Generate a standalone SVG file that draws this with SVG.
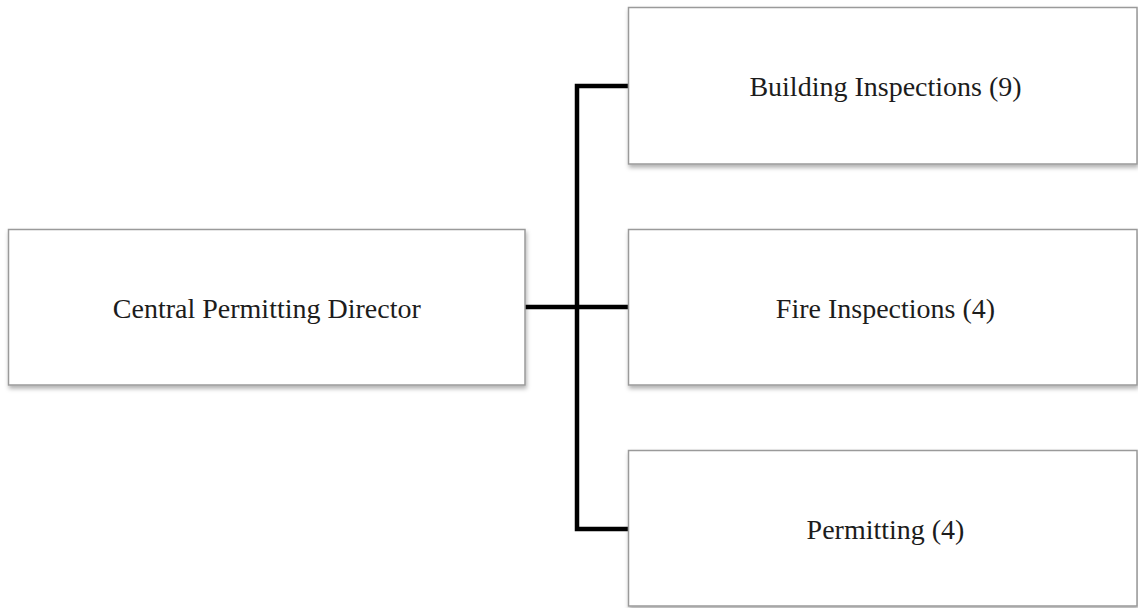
<svg xmlns="http://www.w3.org/2000/svg" width="1138" height="608" viewBox="0 0 1138 608">
  <style>
    .box { fill: #ffffff; stroke: #9a9a9a; stroke-width: 1.5; filter: url(#shadow); }
    .label { font-family: "Liberation Serif", "Times New Roman", serif; font-size: 28px; fill: #1c1c1c; text-anchor: middle; }
    .conn { fill: none; stroke: #000000; stroke-width: 4.5; stroke-linejoin: miter; stroke-linecap: butt; }
  </style>
  <defs>
    <filter id="shadow" x="-5%" y="-10%" width="110%" height="125%">
      <feDropShadow dx="1" dy="3" stdDeviation="2" flood-color="#000000" flood-opacity="0.3"/>
    </filter>
  </defs>
  <rect width="1138" height="608" fill="#ffffff"/>
  <g id="connectors">
    <path class="conn" d="M525,307 H628.5"/>
    <path class="conn" d="M628.5,86 H577 V529 H628.5"/>
  </g>
  <g id="director">
    <rect class="box" x="8.5" y="229.5" width="516.5" height="155.5"/>
    <text class="label" x="266.8" y="317.5">Central Permitting Director</text>
  </g>
  <g id="building">
    <rect class="box" x="628.5" y="7.5" width="508.5" height="156.5"/>
    <text class="label" x="885.5" y="95.5">Building Inspections (9)</text>
  </g>
  <g id="fire">
    <rect class="box" x="628.5" y="229.5" width="508.5" height="155.5"/>
    <text class="label" x="885.5" y="317.5">Fire Inspections (4)</text>
  </g>
  <g id="permitting">
    <rect class="box" x="628.5" y="450.5" width="508.5" height="155.5"/>
    <text class="label" x="885.5" y="539">Permitting (4)</text>
  </g>
</svg>
